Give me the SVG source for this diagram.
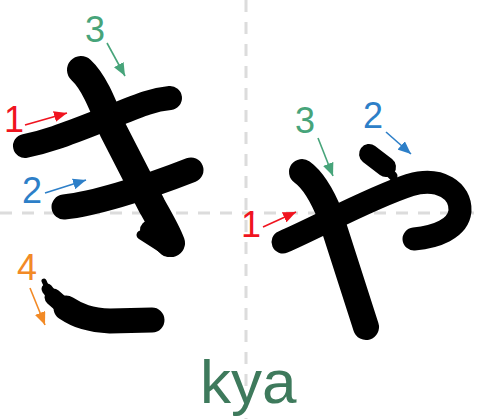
<svg xmlns="http://www.w3.org/2000/svg" width="478" height="419" viewBox="0 0 478 419">
<style>
.guide{stroke:#dcdcdc;stroke-width:3;stroke-dasharray:12 10;fill:none}
.stk{fill:none;stroke:#000;stroke-linecap:round;stroke-linejoin:round}
.num{font-family:"Liberation Sans",Arial,sans-serif;font-size:36px;text-anchor:middle}
.arr{fill:none;stroke-width:1.6}
.red{fill:#f0141f}.blue{fill:#2d7fc8}.green{fill:#47a47a}.orange{fill:#f28a26}
</style>
<defs>
<marker id="mr" markerUnits="userSpaceOnUse" markerWidth="13" markerHeight="11" refX="13" refY="5.5" orient="auto"><path d="M0,0 L13,5.5 L0,11 z" fill="#f0141f"/></marker>
<marker id="mb" markerUnits="userSpaceOnUse" markerWidth="13" markerHeight="11" refX="13" refY="5.5" orient="auto"><path d="M0,0 L13,5.5 L0,11 z" fill="#2d7fc8"/></marker>
<marker id="mg" markerUnits="userSpaceOnUse" markerWidth="13" markerHeight="11" refX="13" refY="5.5" orient="auto"><path d="M0,0 L13,5.5 L0,11 z" fill="#47a47a"/></marker>
<marker id="mo" markerUnits="userSpaceOnUse" markerWidth="13" markerHeight="11" refX="13" refY="5.5" orient="auto"><path d="M0,0 L13,5.5 L0,11 z" fill="#f28a26"/></marker>
</defs>
<rect width="478" height="419" fill="#fff"/>
<g id="guides">
<line class="guide" x1="246" y1="0" x2="246" y2="419"/>
<line class="guide" x1="0" y1="213" x2="478" y2="213"/>
</g>
<g id="ki">
<path class="stk" stroke-width="24" d="M25,146 C45,142 62,136 100,121 S150,100 170,98"/>
<path class="stk" stroke-width="25" d="M64,207 C92,204 140,190 191,170"/>
<path class="stk" stroke-width="28" d="M81,70 C93,81 101,100 113,130 L152,206 C160,220 167,232 171,243"/>
<path class="stk" stroke-width="9" d="M141,235 L166,251"/>
<path class="stk" stroke-width="20" d="M150,230 L168,247"/>
<path class="stk" stroke-width="5" d="M44,281 L48,290"/>
<path class="stk" stroke-width="11" d="M47,289 L54,298"/>
<path class="stk" stroke-width="17" d="M53,297 L61,304"/>
<path class="stk" stroke-width="25" d="M66,308 C78,316 90,320 110,321 L152,320"/>
</g>
<g id="ya">
<path class="stk" stroke-width="23" d="M283,242 C320,226 370,198 410,185 C440,176 461,191 460,211 C458,229 436,237 414,239"/>
<path class="stk" stroke-width="20" d="M369,154 L386,167"/>
<path class="stk" stroke-width="9" d="M384,167 L393,176"/>
<path class="stk" stroke-width="26" d="M302,172 C313,180 322,195 330,215 L366,327"/>
</g>
<g id="connectors">
<line class="arr" stroke="#f0141f" marker-end="url(#mr)" x1="25" y1="125" x2="67" y2="113"/>
<line class="arr" stroke="#2d7fc8" marker-end="url(#mb)" x1="45" y1="193" x2="86" y2="180"/>
<line class="arr" stroke="#47a47a" marker-end="url(#mg)" x1="107" y1="43" x2="125" y2="76"/>
<line class="arr" stroke="#f28a26" marker-end="url(#mo)" x1="30" y1="288" x2="45" y2="325"/>
<line class="arr" stroke="#47a47a" marker-end="url(#mg)" x1="318" y1="138" x2="333" y2="176"/>
<line class="arr" stroke="#2d7fc8" marker-end="url(#mb)" x1="386" y1="132" x2="411" y2="154"/>
<line class="arr" stroke="#f0141f" marker-end="url(#mr)" x1="263" y1="227" x2="296" y2="212"/>
</g>
<g id="labels">
<text class="num red" x="14" y="132">1</text>
<text class="num blue" x="32" y="203">2</text>
<text class="num green" x="95" y="42">3</text>
<text class="num orange" x="27" y="280">4</text>
<text class="num green" x="305" y="133">3</text>
<text class="num blue" x="373" y="128">2</text>
<text class="num red" x="251" y="237">1</text>
</g>
<g id="romaji">
<text x="200" y="403" font-family="Liberation Sans, Arial, sans-serif" font-size="62" fill="#3e7a5c">kya</text>
</g>
</svg>
